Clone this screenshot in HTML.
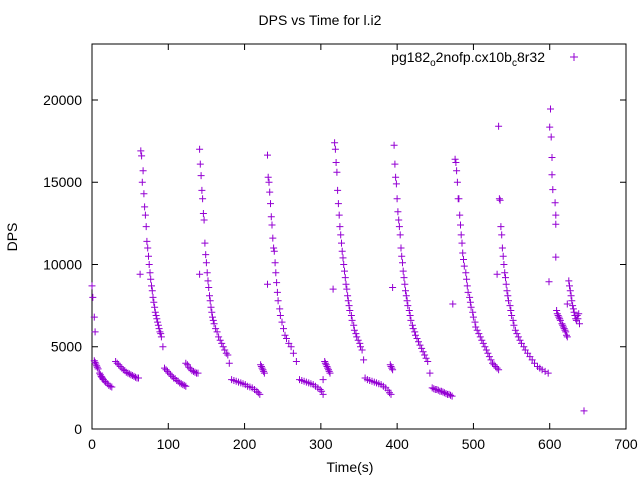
<!DOCTYPE html>
<html><head><meta charset="utf-8"><style>
body{margin:0;background:#fff}
svg{display:block;font-family:"Liberation Sans",sans-serif}
</style></head><body>
<svg id="chart" width="640" height="480" viewBox="0 0 640 480" xmlns="http://www.w3.org/2000/svg">
<rect width="640" height="480" fill="#fff"/>
<text x="320" y="25" font-size="14" text-anchor="middle">DPS vs Time for l.i2</text>
<text transform="translate(17,237) rotate(-90)" font-size="14" text-anchor="middle">DPS</text>
<text x="350" y="472" font-size="14" text-anchor="middle">Time(s)</text>
<rect x="92" y="44" width="534" height="385" fill="none" stroke="#000" stroke-width="1"/>
<g id="axes"></g>
<g id="marks"></g>
<g>
<text x="545" y="62" font-size="14" text-anchor="end">pg182<tspan font-size="10" dy="4">o</tspan><tspan dy="-4">2nofp.cx10b</tspan><tspan font-size="10" dy="4">c</tspan><tspan dy="-4">8r32</tspan></text>
<path d="M570 57h8M574 53v8" stroke="#9400d3" stroke-width="1"/>
</g>
</svg>
<script>
const xTicks=[0,100,200,300,400,500,600,700];
const yTicks=[0,5000,10000,15000,20000];
const burst0=[[0,8700],[1,8000],[3,6800],[4,5900]];
const band1=[[3,4150],[4,4050],[5,3950],[6,3850],[7,3750],[8,3650],[10,3400],[11,3300],[12,3200],[13,3150],[14,3050],[15,3000],[17,2900],[18,2850],[20,2750],[22,2650],[24,2600],[26,2550]];
const band2=[[31,4100],[33,4000],[35,3900],[37,3800],[39,3700],[41,3600],[43,3550],[45,3450],[47,3400],[49,3350],[51,3300],[53,3250],[55,3200],[57,3150],[59,3100],[61,3100]];
const spike1=[[63,9400],[64,16900],[65,16600],[66,15000],[67,15700],[68,14300],[69,13500],[70,13000],[71,12300],[72,11400],[73,11000],[74,10500],[75,10000],[76,9500],[77,9100],[78,8700],[79,8400],[80,8000],[81,7700],[82,7400],[83,7100],[84,6900],[85,6700],[86,6500],[87,6300],[88,6100],[89,5900],[90,5800],[91,5600],[93,5000]];
const band3=[[95,3700],[97,3600],[99,3500],[101,3400],[103,3300],[105,3200],[107,3100],[109,3050],[111,2950],[113,2900],[115,2800],[117,2750],[119,2700],[121,2650],[123,2600]];
const band4=[[123,4000],[125,3900],[127,3750],[129,3650],[131,3550],[133,3500],[135,3450],[137,3400],[139,3400]];
const spike2=[[141,9400],[141,17000],[142,16100],[143,15400],[144,14500],[145,14000],[146,13100],[147,12700],[148,11300],[149,10600],[150,10100],[151,9500],[152,9000],[153,8600],[154,8100],[155,7800],[156,7400],[157,7100],[158,6800],[159,6600],[160,6400],[162,6100],[164,5900],[166,5600],[168,5400],[170,5200],[172,5000],[174,4800],[176,4600],[178,4500],[180,4000]];
const band5=[[183,3000],[186,2950],[189,2900],[192,2850],[195,2800],[198,2750],[201,2700],[204,2600],[207,2550],[210,2500],[213,2400],[216,2300],[218,2200],[220,2100]];
const band6=[[221,3900],[222,3800],[223,3700],[224,3600],[225,3500],[226,3400]];
const spike3=[[230,8800],[230,16650],[231,15300],[232,15000],[233,14400],[234,13700],[235,12900],[236,12400],[237,11600],[238,11000],[239,10800],[240,10100],[241,9500],[242,8900],[243,8300],[244,7800],[246,7300],[247,6900],[249,6500],[251,6100],[253,5700],[255,5500],[258,5200],[261,5000],[264,4600],[268,4100]];
const band7=[[272,3000],[275,2950],[278,2900],[281,2850],[284,2800],[287,2750],[290,2700],[293,2600],[296,2500],[299,2400],[301,2300],[303,2100]];
const cluster1=[[303,3000],[305,4100],[306,4000],[307,3900],[308,3800],[309,3700],[310,3600],[311,3500],[312,3400]];
const spike4=[[316,8500],[318,17400],[319,17000],[320,16200],[321,15600],[322,14500],[323,13700],[324,13000],[325,12300],[326,11800],[327,11300],[328,10800],[329,10400],[330,10000],[331,9600],[332,9200],[333,8800],[334,8500],[335,8100],[336,7800],[337,7500],[338,7200],[340,6900],[341,6600],[343,6300],[344,6000],[346,5800],[347,5600],[349,5400],[351,5200],[352,5000],[354,4800],[356,4200]];
const band8=[[358,3100],[361,3000],[364,2950],[367,2900],[370,2850],[373,2800],[376,2750],[379,2700],[382,2600],[385,2500],[388,2350],[390,2200],[392,2100]];
const cluster2=[[391,3900],[392,3800],[393,3700],[394,3600]];
const spike5=[[394,8600],[396,17250],[397,16100],[398,15300],[399,14900],[400,14000],[401,13200],[402,12700],[403,12300],[404,11800],[405,11000],[406,10500],[407,10100],[408,9600],[409,9200],[410,8800],[411,8400],[412,8100],[413,7800],[414,7500],[416,7200],[417,6900],[418,6600],[420,6300],[421,6100],[423,5900],[424,5700],[426,5500],[428,5300],[430,5100],[432,4900],[434,4700],[436,4500],[438,4300],[440,4100],[443,3400]];
const band9=[[446,2500],[448,2450],[450,2400],[452,2400],[454,2350],[456,2300],[458,2300],[460,2250],[462,2200],[464,2150],[466,2100],[468,2100],[470,2050],[472,2000]];
const spike6=[[473,7600],[476,16400],[477,16200],[478,15700],[479,15000],[480,14000],[481,14000],[482,13000],[483,12400],[484,11800],[485,11300],[486,10700],[487,10300],[488,9900],[490,9500],[491,9100],[492,8700],[493,8300],[495,8000],[496,7700],[497,7400],[499,7100],[500,6800],[502,6500],[503,6200],[505,6000],[507,5800],[509,5600],[511,5400],[513,5200],[515,5000],[517,4800],[519,4600],[521,4400],[523,4200],[525,4000],[527,3900],[529,3800],[531,3700],[533,3600]];
const spike7=[[531,9400],[533,18400],[534,14000],[535,13900],[536,12300],[537,11800],[538,11000],[539,10500],[540,10000],[541,9500],[542,9200],[543,8800],[544,8400],[545,8100],[546,7800],[548,7500],[549,7200],[550,6900],[552,6600],[553,6300],[555,6000],[557,5800],[559,5600],[561,5400],[563,5200],[566,5000],[568,4800],[571,4600],[574,4400],[577,4200],[580,4000],[584,3800],[587,3700],[590,3600],[594,3500],[598,3400]];
const spike8=[[601,19450],[600,18350],[602,17750],[603,16500],[603,15450],[604,14550],[607,13750],[608,13000],[608,12450],[608,10450],[599,8950]];
const cluster3=[[609,7200],[610,7000],[611,6900],[612,6800],[613,6700],[614,6600],[616,6400],[617,6300],[618,6200],[619,6100],[620,6000],[621,5900],[622,5700],[623,5600]];
const cluster4=[[623,7600],[625,9000],[626,8700],[627,8400],[628,8100],[629,7800],[630,7500],[631,7300],[632,7100],[633,6900],[634,6700],[635,6600],[636,6900],[637,6700],[638,7000],[639,6400],[645,1100]];
const series=[burst0,band1,band2,spike1,band3,band4,spike2,band5,band6,spike3,band7,cluster1,spike4,band8,cluster2,spike5,band9,spike6,spike7,spike8,cluster3,cluster4];

const X0=92,X1=626,Y0=429,Y1=44;
function xs(t){return X0+(t-0)/(700-0)*(X1-X0);}
function ys(v){return Y0-(v/23400)*(Y0-Y1);}
const NS="http://www.w3.org/2000/svg";
const axes=document.getElementById('axes');
xTicks.forEach(t=>{
  const x=xs(t);
  const p=document.createElementNS(NS,'path');
  p.setAttribute('d',`M${x} ${Y0}v-6M${x} ${Y1}v6`);
  p.setAttribute('stroke','#000');
  
  
  axes.appendChild(p);
  const tx=document.createElementNS(NS,'text');
  tx.setAttribute('x',x);tx.setAttribute('y',449);
  tx.setAttribute('font-size','14');tx.setAttribute('text-anchor','middle');
  tx.textContent=t;
  
  
  axes.appendChild(tx);
});
yTicks.forEach(v=>{
  const y=ys(v);
  const p=document.createElementNS(NS,'path');
  p.setAttribute('d',`M${X0} ${y}h6M${X1} ${y}h-6`);
  p.setAttribute('stroke','#000');
  
  
  axes.appendChild(p);
  const tx=document.createElementNS(NS,'text');
  tx.setAttribute('x',82);tx.setAttribute('y',y+5);
  tx.setAttribute('font-size','14');tx.setAttribute('text-anchor','end');
  tx.textContent=v;
  
  
  axes.appendChild(tx);
});
const marks=document.getElementById('marks');
let d='';
series.forEach(s=>s.forEach(([t,v])=>{
  const x=xs(t),y=ys(v);
  d+=`M${(x-3.5).toFixed(1)} ${y.toFixed(1)}h7M${x.toFixed(1)} ${(y-3.5).toFixed(1)}v7`;
}));
const mp=document.createElementNS(NS,'path');
mp.setAttribute('d',d);
mp.setAttribute('stroke','#9400d3');
mp.setAttribute('stroke-width','1');
mp.setAttribute('fill','none');


marks.appendChild(mp);
</script>
</body></html>
